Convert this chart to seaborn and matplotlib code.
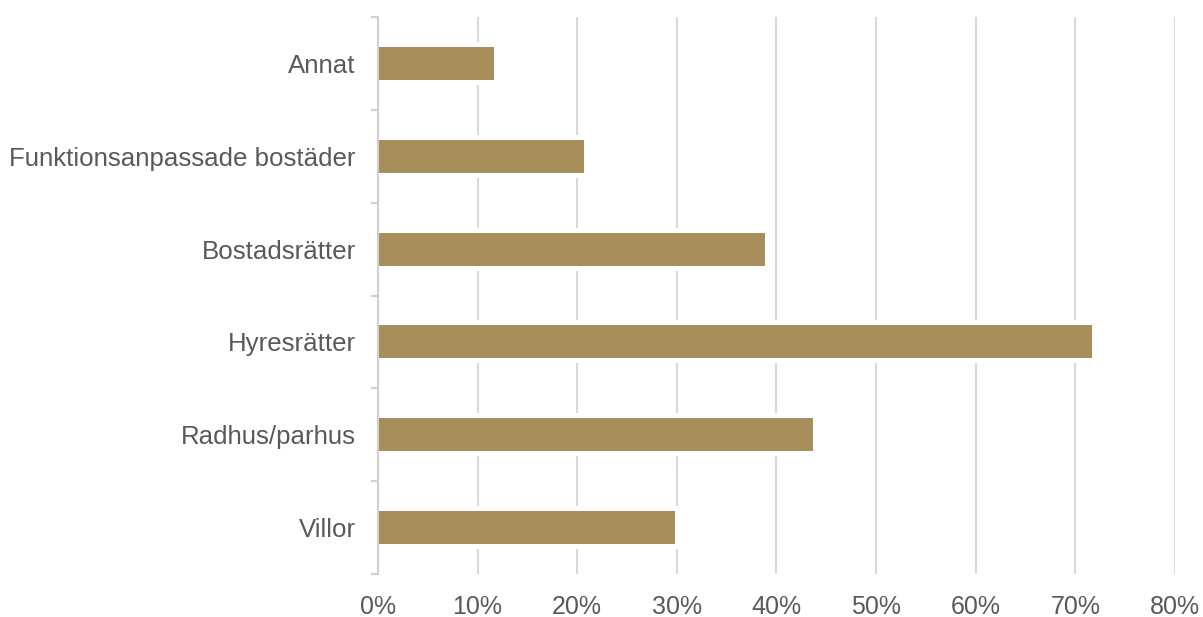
import matplotlib
matplotlib.use("Agg")
import matplotlib.pyplot as plt
import matplotlib.patheffects as pe
from matplotlib.ticker import FixedLocator, PercentFormatter
import seaborn as sns
import pandas as pd

categories = ["Annat", "Funktionsanpassade bostäder", "Bostadsrätter",
              "Hyresrätter", "Radhus/parhus", "Villor"]
values = [11.6, 20.7, 38.8, 71.7, 43.7, 29.8]
xticks = [0, 10, 20, 30, 40, 50, 60, 70, 80]

df = pd.DataFrame({"kategori": categories, "andel": values})

sns.set_theme(style="white")
plt.rcParams["font.family"] = ["Liberation Sans", "DejaVu Sans"]

fig = plt.figure(figsize=(12.03, 6.17), dpi=100)
ax = fig.add_axes([0.3142, 0.0697, 0.9767 - 0.3142, 0.9724 - 0.0697])

sns.barplot(data=df, x="andel", y="kategori", order=categories,
            color="#A88E5A", saturation=1, width=0.355, ax=ax)
for p in ax.patches:
    p.set_edgecolor("none")
    p.set_path_effects([pe.withStroke(linewidth=7.2, foreground="white")])

ax.set_xlim(0, 80)
ax.set_ylim(len(categories) - 0.5, -0.5)
ax.xaxis.set_major_locator(FixedLocator(xticks))
ax.xaxis.set_major_formatter(PercentFormatter(decimals=0))
ax.set_axisbelow(True)
ax.grid(axis="x", color="#D9D9D9", linewidth=1.5)
ax.grid(axis="y", visible=False)

for s in ["top", "right", "bottom"]:
    ax.spines[s].set_visible(False)
ax.spines["left"].set_color("#D0D0D0")
ax.spines["left"].set_linewidth(1.5)

ax.set_xlabel("")
ax.set_ylabel("")
ax.tick_params(axis="x", length=0, pad=15, labelsize=18, labelcolor="#595959")
ax.tick_params(axis="y", which="major", length=0, pad=16, labelsize=18.6,
               labelcolor="#595959")
ax.yaxis.set_minor_locator(FixedLocator([i - 0.5 for i in range(len(categories) + 1)]))
ax.tick_params(axis="y", which="minor", length=5, width=1.5, color="#D0D0D0", left=True)

fig.savefig("out.png", dpi=100, facecolor="white")
